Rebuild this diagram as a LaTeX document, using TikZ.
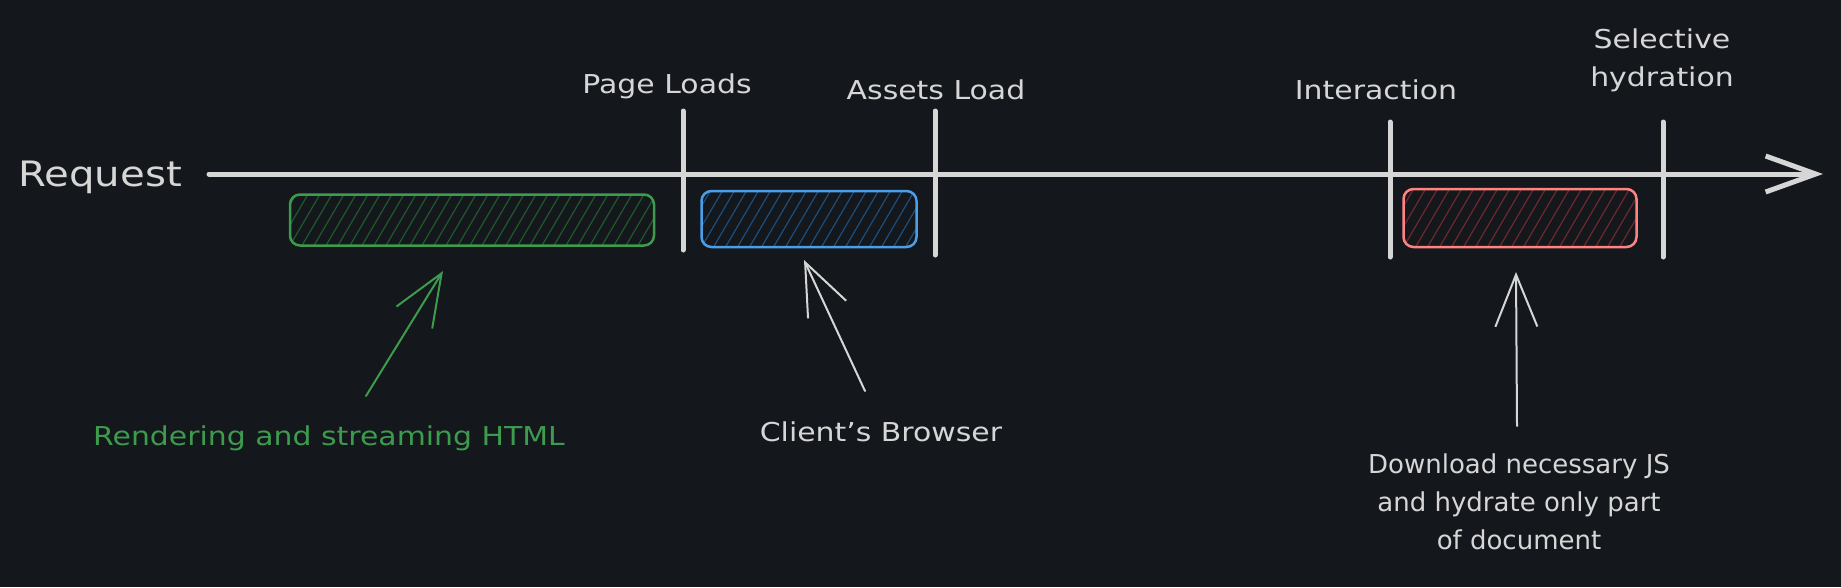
\documentclass[tikz,border=0pt]{standalone}
\usepackage{fontspec}
\setmainfont[FakeStretch=1.15]{DejaVu Sans}
\newfontfamily\narrowfont[FakeStretch=1.0]{DejaVu Sans}
\usetikzlibrary{arrows.meta}
\definecolor{bg}{HTML}{14171C}
\definecolor{ink}{HTML}{D6D6D6}
\definecolor{gline}{HTML}{3D9B4D}
\definecolor{ghatch}{HTML}{1E5A2A}
\definecolor{bline}{HTML}{4A9FE8}
\definecolor{bhatch}{HTML}{1D4E7A}
\definecolor{rline}{HTML}{FF8383}
\definecolor{rhatch}{HTML}{6E2A2A}
\tikzset{
  lbl/.style={text=ink, font=\fontsize{26}{38}\selectfont, inner sep=0pt, align=center},
  axisline/.style={draw=ink, line width=5pt, line cap=round},
  tickline/.style={draw=ink, line width=5pt, line cap=round},
  pointer/.style={draw=ink, line width=2pt, line cap=round,
     -{Straight Barb[length=52pt,width=42pt,line width=2pt]}},
  hatchbox/.style n args={2}{draw=#1, line width=2.5pt, rounded corners=10pt,
     inner sep=0pt,
     path picture={\foreach \k in {-60,-48,...,400}{
        \draw[#2, line width=1.2pt] ([xshift=\k pt]path picture bounding box.south west) -- ++(34pt,58pt);}}},
}
\begin{document}
\begin{tikzpicture}[x=1pt,y=-1pt]
\fill[bg] (0,0) rectangle (1841,587);
\useasboundingbox (0,0) rectangle (1841,587);

% axis
\node[text=ink, font=\fontsize{35}{40}\selectfont, inner sep=0pt] (req) at (100,177) {Request};
\coordinate (axs) at (209,174);
\coordinate (axe) at (1823,174);
\draw[axisline, -{Straight Barb[length=50pt,width=36pt,line width=5pt]}] (axs) -- (axe);

% ticks
\coordinate (t1a) at (683,111); \coordinate (t1b) at (683,250);
\coordinate (t2a) at (935,111); \coordinate (t2b) at (935,255);
\coordinate (t3a) at (1390,122); \coordinate (t3b) at (1390,257);
\coordinate (t4a) at (1663,122); \coordinate (t4b) at (1663,257);
\draw[tickline] (t1a) -- (t1b);
\draw[tickline] (t2a) -- (t2b);
\draw[tickline] (t3a) -- (t3b);
\draw[tickline] (t4a) -- (t4b);

% tick labels
\node[lbl] (pl) at (667,86) {Page Loads};
\node[lbl] (al) at (936,90) {Assets Load};
\node[lbl] (ia) at (1376,90) {Interaction};
\node[lbl] (sh) at (1662,60) {Selective\\hydration};

% boxes
\node[hatchbox={gline}{ghatch}, minimum width=364pt, minimum height=51pt] (gbox) at (472,220) {};
\node[hatchbox={bline}{bhatch}, minimum width=215pt, minimum height=56pt] (bbox) at (809,219) {};
\node[hatchbox={rline}{rhatch}, minimum width=233pt, minimum height=58pt] (rbox) at (1520,218) {};

% labels
\node[lbl, text=gline] (rend) at (329,438) {Rendering and streaming HTML};
\node[lbl] (cli) at (881,432) {Client's Browser};
\node[lbl, font=\narrowfont\fontsize{26}{38}\selectfont] (dl) at (1519,502) {Download necessary JS\\and hydrate only part\\of document};

% pointers
\coordinate (gtail) at (366,396); \coordinate (gtip) at (443,271);
\coordinate (btail) at (865,391); \coordinate (btip) at (804,260);
\coordinate (rtail) at (1517,426); \coordinate (rtip) at (1516,272);
\draw[pointer, draw=gline, -{Straight Barb[length=52pt,width=42pt,line width=2pt]}] (gtail) -- (gtip);
\draw[pointer] (btail) -- (btip);
\draw[pointer] (rtail) -- (rtip);
\end{tikzpicture}
\end{document}
